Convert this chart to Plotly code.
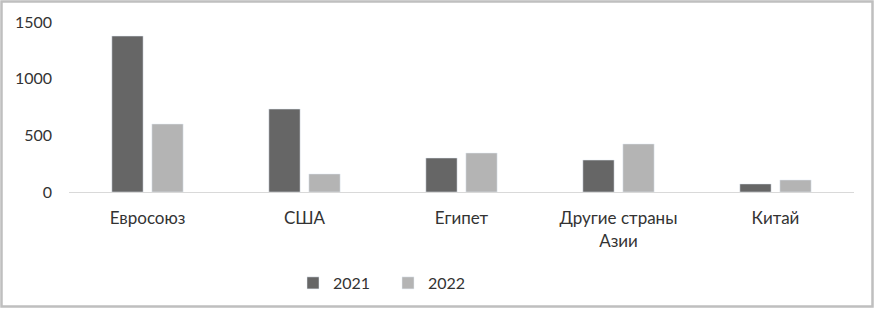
import plotly.graph_objects as go

categories = ["Евросоюз", "США", "Египет", "Другие страны<br>Азии", "Китай"]
values_2021 = [1376, 732, 300, 282, 71]
values_2022 = [600, 159, 344, 424, 106]
series_names = ["2021", "2022"]
y_ticks = [0, 500, 1000, 1500]

fig = go.Figure()
fig.add_trace(go.Bar(x=categories, y=values_2021, name=series_names[0], marker_color="#666666"))
fig.add_trace(go.Bar(x=categories, y=values_2022, name=series_names[1], marker_color="#b4b4b4"))

W, H = 875, 309
L, pw = 69, 785
T, ph = 22, 170
R, B = W - L - pw, H - T - ph

fig.update_layout(
    width=W, height=H,
    margin=dict(l=L, r=R, t=T, b=B, pad=0, autoexpand=False),
    paper_bgcolor="white", plot_bgcolor="white",
    barmode="group", bargap=0.49, bargroupgap=0.22,
    font=dict(family="Lato, Open Sans, sans-serif", size=16, color="#333333"),
    showlegend=True,
    legend=dict(orientation="h", x=(388 - L) / pw, xanchor="center", y=(192 - 283) / ph, yanchor="middle",
                font=dict(size=16, color="#333333"), traceorder="normal",
                entrywidth=50, entrywidthmode="pixels"),
    xaxis=dict(showline=True, linecolor="#d9d9d9", linewidth=1, ticks="", showgrid=False,
               automargin=False, ticklabelstandoff=11,
               tickfont=dict(size=17, color="#333333")),
    yaxis=dict(range=[0, 1500], tickvals=y_ticks, showgrid=False, zeroline=False, showline=False,
               automargin=False, ticks="", ticklabelstandoff=16, tickfont=dict(size=16, color="#333333")),
    shapes=[dict(type="rect", xref="paper", yref="paper",
                 x0=(1.5 - L) / pw, x1=(872.5 - L) / pw,
                 y0=(192 - 306.5) / ph, y1=(192 - 1.5) / ph,
                 line=dict(color="#bfbfbf", width=2.5), fillcolor="rgba(0,0,0,0)", layer="below")],
)

fig.write_html("out.html", config={"displayModeBar": False},
               post_script="document.body.style.margin='0';document.body.style.overflow='hidden';")
